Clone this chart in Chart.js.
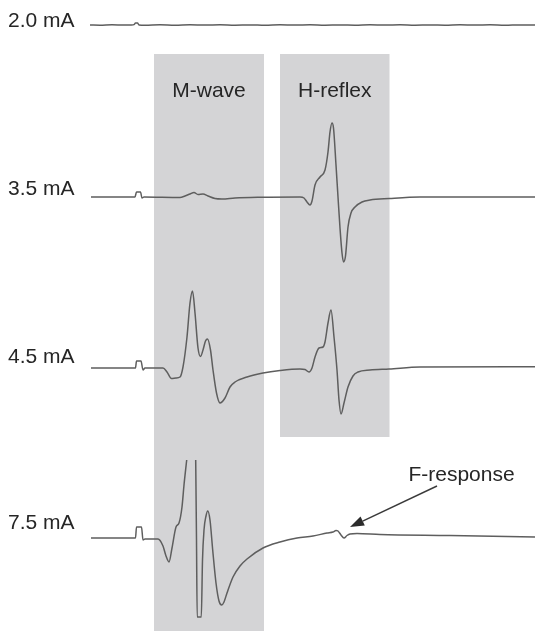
<!DOCTYPE html>
<html>
<head>
<meta charset="utf-8">
<script src="https://cdn.jsdelivr.net/npm/chart.js@4.4.1/dist/chart.umd.min.js"></script>
<style>
    html, body { margin: 0; padding: 0; background: #fff; }
    #wrap { width: 535px; height: 631px; position: relative; }
</style>
</head>
<body>
<div id="wrap"><canvas id="emgChart"></canvas></div>
<script>
// ==================== EMG recruitment traces ====================
// time in ms after stimulus, amplitude in mV (relative to each trace baseline)

const traceLabels = ['2.0 mA', '3.5 mA', '4.5 mA', '7.5 mA'];

const trace20 = [
    [-9.4, 0], [-7.4, -0.01], [-5.0, 0.01], [-2.6, -0.005], [-1.2, 0.005], [-0.6, 0.02],
    [-0.3, 0.1], [0.1, 0.1], [0.4, 0], [1.6, -0.01], [4.6, 0.01], [7.6, -0.012],
    [10.6, 0.008], [13.6, -0.006], [16.6, 0.012], [19.6, -0.01], [22.6, 0.006], [25.6, -0.012],
    [28.6, 0.01], [31.6, -0.004], [34.6, 0.012], [37.6, -0.01], [40.6, 0.006], [43.6, -0.008],
    [46.6, 0.012], [49.6, -0.006], [52.6, 0.01], [55.6, -0.012], [58.6, 0.004], [61.6, -0.01],
    [64.6, 0.012], [67.6, -0.006], [70.6, 0.008], [73.6, -0.012], [76.6, 0.006], [79.6, 0]
];

const trace35 = [
    [-9.2, 0], [-0.4, 0], [-0.1, 0.25], [0.7, 0.25], [1.0, -0.05], [1.4, 0],
    [8.6, -0.025], [9.6, 0.05], [10.6, 0.15], [11.4, 0.225], [12.2, 0.125], [13.2, 0.15],
    [14.2, 0.05], [15.6, -0.075], [17.0, -0.1], [19.6, -0.05], [24.6, -0.015], [32.6, 0],
    [33.4, -0.05], [34.0, -0.25], [34.6, -0.4], [35.0, -0.2], [35.6, 0.6], [36.6, 1.0],
    [37.6, 1.35], [38.2, 2.25], [38.6, 3.25], [39.0, 3.7], [39.3, 3.45], [39.8, 1.6],
    [40.2, 0], [40.6, -1.55], [41.0, -2.8], [41.3, -3.25], [41.7, -2.95], [42.2, -1.5],
    [42.8, -0.8], [43.6, -0.5], [45.0, -0.25], [46.6, -0.15], [50.4, -0.075], [56.6, 0], [79.6, 0]
];

const trace45 = [
    [-9.2, 0], [-0.3, 0], [-0.1, 0.35], [0.8, 0.35], [1.2, -0.1], [1.6, 0],
    [5.2, 0], [6.0, -0.2], [6.9, -0.525], [7.8, -0.5], [8.6, -0.45], [9.2, 0.05],
    [10.0, 1.55], [10.6, 3.25], [11.1, 3.85], [11.6, 2.75], [12.2, 1.0], [12.7, 0.575],
    [13.2, 0.9], [13.7, 1.35], [14.1, 1.45], [14.7, 0.9], [15.2, -0.1], [15.9, -1.25],
    [16.6, -1.75], [17.6, -1.5], [18.6, -0.95], [19.6, -0.7], [22.0, -0.45], [25.2, -0.25],
    [28.6, -0.125], [32.6, -0.05], [33.6, -0.075], [34.4, -0.2], [35.0, 0], [35.6, 0.55],
    [36.4, 1.0], [37.2, 1.05], [37.6, 1.3], [38.2, 2.25], [38.8, 2.9], [39.4, 1.55],
    [40.0, -0.1], [40.4, -1.6], [40.8, -2.3], [41.4, -1.75], [42.2, -0.95], [43.2, -0.4],
    [44.2, -0.2], [46.6, -0.1], [50.4, -0.05], [56.6, 0.05], [79.6, 0.065]
];

// null = trace leaves the recording window (clipped)
const trace75 = [
    [-9.2, 0], [-0.3, 0], [-0.1, 0.55], [0.9, 0.55], [1.2, -0.1], [1.6, -0.05],
    [4.2, -0.05], [5.2, -0.4], [5.8, -0.9], [6.4, -1.2], [7.0, -0.5], [7.8, 0.55],
    [8.4, 0.75], [9.0, 1.55], [9.4, 2.65], [9.94, 3.9], [10.8, null], [11.74, 3.9],
    [11.9, -0.1], [12.04, -3.95], [12.86, -3.95], [13.1, -1.1], [13.4, 0.4], [13.8, 1.1],
    [14.14, 1.35], [14.6, 0.9], [15.14, -0.6], [15.8, -2.25], [16.4, -3.15], [16.94, -3.35],
    [17.4, -3.2], [18.0, -2.75], [19.2, -1.95], [20.6, -1.4], [22.0, -1.05], [25.2, -0.5],
    [28.6, -0.2], [32.0, 0], [35.2, 0.1], [38.0, 0.25], [39.2, 0.3], [39.8, 0.375],
    [40.2, 0.35], [40.8, 0.15], [41.4, 0], [42.0, 0.125], [42.6, 0.2], [44.0, 0.225],
    [48.6, 0.175], [62.6, 0.125], [79.6, 0.05]
];

const windowLabels = ['M-wave', 'H-reflex'];
const windowStart = [3.4, 28.6];
const windowEnd = [25.4, 50.5];

const fResponseLabel = 'F-response';
const fResponseAt = [42.6, 0.55]; // ms, mV on 7.5 mA trace

// ---- layout (stacking offsets, not data) ----
const traceOffsets = [30.3, 21.7, 13.15, 4.65];
const labelShift = [2, -2, -5, -9];
const boxTop = 28.85;
const boxBottom = [0, 9.7];

const FONT = '21px "Liberation Sans", Arial, sans-serif';
const TEXT_COLOR = '#262626';
const LINE_COLOR = '#5e5e5e';
const BOX_COLOR = '#d4d4d6';

const traces = [trace20, trace35, trace45, trace75];

const datasets = traces.map((tr, i) => ({
    label: traceLabels[i],
    data: tr.map(p => ({ x: p[0], y: p[1] === null ? null : traceOffsets[i] + p[1] })),
    borderColor: LINE_COLOR,
    borderWidth: 1.5,
    pointRadius: 0,
    fill: false,
    spanGaps: false,
    cubicInterpolationMode: 'monotone'
}));

const windowsPlugin = {
    id: 'windows',
    beforeDatasetsDraw(chart) {
        const { ctx, scales: { x, y } } = chart;
        ctx.save();
        ctx.fillStyle = BOX_COLOR;
        windowLabels.forEach((lbl, i) => {
            const x0 = x.getPixelForValue(windowStart[i]);
            const x1 = x.getPixelForValue(windowEnd[i]);
            const y0 = y.getPixelForValue(boxTop);
            const y1 = y.getPixelForValue(boxBottom[i]);
            ctx.fillRect(x0, y0, x1 - x0, y1 - y0);
        });
        ctx.restore();
    },
    afterDatasetsDraw(chart) {
        const { ctx, scales: { x, y } } = chart;
        ctx.save();
        ctx.font = FONT;
        ctx.fillStyle = TEXT_COLOR;
        ctx.textBaseline = 'alphabetic';

        // window titles
        ctx.textAlign = 'center';
        windowLabels.forEach((lbl, i) => {
            const cx = (x.getPixelForValue(windowStart[i]) + x.getPixelForValue(windowEnd[i])) / 2;
            ctx.fillText(lbl, cx, y.getPixelForValue(boxTop) + 43);
        });

        // stimulus intensity labels
        ctx.textAlign = 'left';
        traceLabels.forEach((lbl, i) => {
            ctx.fillText(lbl, 8, y.getPixelForValue(traceOffsets[i]) + labelShift[i]);
        });

        // F-response arrow
        const tx = x.getPixelForValue(fResponseAt[0]);
        const ty = y.getPixelForValue(traceOffsets[3] + fResponseAt[1]);
        const sx = tx + 87, sy = ty - 41;
        const ang = Math.atan2(ty - sy, tx - sx);
        const headLen = 14, headW = 5;
        const bx = tx - headLen * Math.cos(ang), by = ty - headLen * Math.sin(ang);
        ctx.strokeStyle = '#3a3a3a';
        ctx.lineWidth = 1.4;
        ctx.beginPath();
        ctx.moveTo(sx, sy);
        ctx.lineTo(bx, by);
        ctx.stroke();
        ctx.fillStyle = '#2b2b2b';
        ctx.beginPath();
        ctx.moveTo(tx, ty);
        ctx.lineTo(bx + headW * Math.sin(ang), by - headW * Math.cos(ang));
        ctx.lineTo(bx - headW * Math.sin(ang), by + headW * Math.cos(ang));
        ctx.closePath();
        ctx.fill();

        ctx.fillStyle = TEXT_COLOR;
        ctx.textAlign = 'center';
        ctx.fillText(fResponseLabel, tx + 111.5, ty - 46);
        ctx.restore();
    }
};

new Chart(document.getElementById('emgChart').getContext('2d'), {
    type: 'line',
    data: { datasets },
    options: {
        responsive: true,
        maintainAspectRatio: false,
        animation: false,
        layout: { padding: 0 },
        plugins: { legend: { display: false }, tooltip: { enabled: false } },
        scales: {
            x: { type: 'linear', min: -27.4, max: 79.6, display: false },
            y: { type: 'linear', min: 0, max: 31.55, display: false }
        }
    },
    plugins: [windowsPlugin]
});
</script>
</body>
</html>
